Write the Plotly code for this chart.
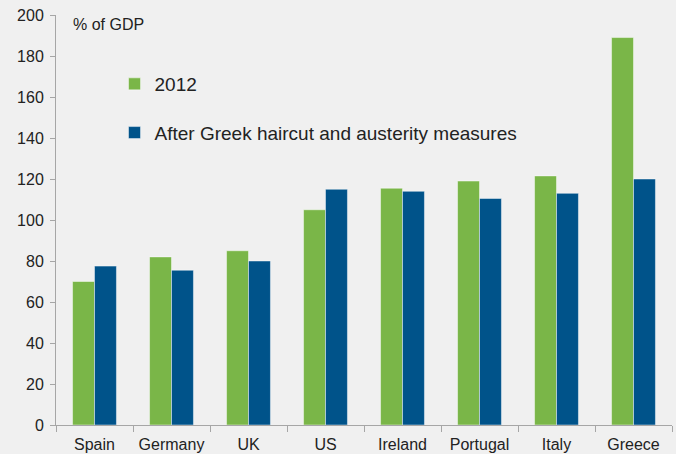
import plotly.graph_objects as go

countries = ["Spain", "Germany", "UK", "US", "Ireland", "Portugal", "Italy", "Greece"]
debt_2012 = [70, 82, 85, 105, 115.5, 119, 121.5, 189]
debt_after = [77.5, 75.5, 80, 115, 114, 110.5, 113, 120]
y_ticks = [0, 20, 40, 60, 80, 100, 120, 140, 160, 180, 200]

GREEN = "#7AB648"
BLUE = "#00538A"
BG = "#F0F0F0"
AXIS = "#A6A6A6"
FONT = "Liberation Sans, Arial, sans-serif"

fig = go.Figure()
fig.add_trace(go.Bar(
    x=countries, y=debt_2012, name="2012", legendgroup="a",
    marker=dict(color=GREEN, line=dict(color="rgba(255,255,255,0.45)", width=1)),
))
fig.add_trace(go.Bar(
    x=countries, y=debt_after, name="After Greek haircut and austerity measures", legendgroup="b",
    marker=dict(color=BLUE, line=dict(color="rgba(255,255,255,0.45)", width=1)),
))

fig.update_layout(
    width=676, height=454,
    margin=dict(l=56, r=4, t=15, b=29),
    paper_bgcolor=BG, plot_bgcolor=BG,
    font=dict(family=FONT, size=16, color="#222222"),
    barmode="group", bargap=0.43, bargroupgap=0,
    legend=dict(
        x=0.095, y=0.878, xanchor="left", yanchor="top",
        bgcolor="rgba(0,0,0,0)", font=dict(size=19, color="#222222"),
        tracegroupgap=21, traceorder="grouped",
    ),
    xaxis=dict(
        showgrid=False, showline=True, linecolor=AXIS, linewidth=1,
        ticks="outside", tickson="boundaries", ticklen=6, tickcolor=AXIS,
        tickfont=dict(size=16, color="#222222"), ticklabelstandoff=5,
        automargin=False,
    ),
    yaxis=dict(
        range=[0, 200], tickvals=y_ticks, showgrid=False, zeroline=False,
        showline=True, linecolor=AXIS, linewidth=1,
        ticks="outside", ticklen=5, tickcolor=AXIS,
        tickfont=dict(size=16, color="#222222"), ticklabelstandoff=3,
        automargin=False,
    ),
    annotations=[dict(
        text="% of GDP", xref="paper", yref="paper", x=0.024, y=0.978,
        xanchor="left", yanchor="middle", showarrow=False,
        font=dict(size=16, color="#222222"),
    )],
)

fig.write_html("out.html")
